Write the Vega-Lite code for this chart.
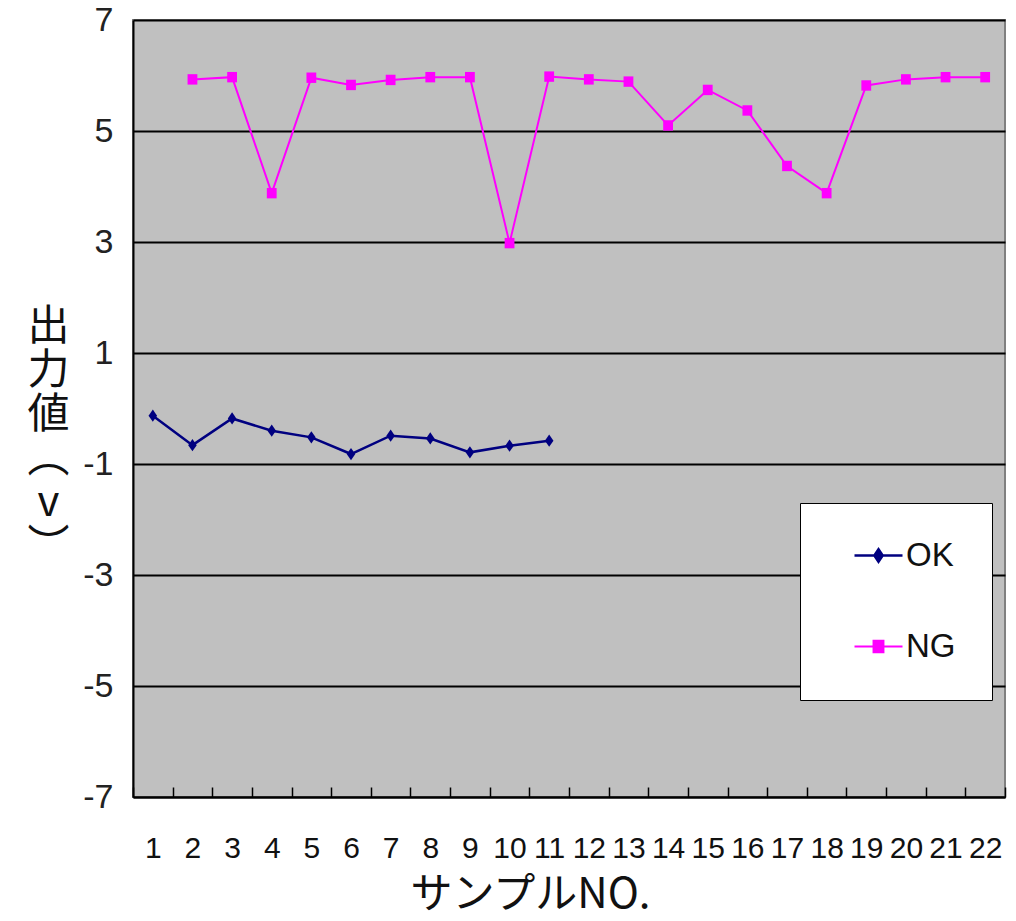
{
  "$schema": "https://vega.github.io/schema/vega-lite/v6.json",
  "width": 872,
  "height": 777,
  "autosize": "none",
  "padding": {"left": 133, "top": 20, "right": 11, "bottom": 124},
  "background": "white",
  "config": {
    "view": {"fill": "#c0c0c0", "stroke": "#808080", "strokeWidth": 2},
    "font": "Liberation Sans"
  },
  "data": {
    "values": [
      {"no": 1, "series": "OK", "v": -0.13},
      {"no": 2, "series": "OK", "v": -0.66},
      {"no": 3, "series": "OK", "v": -0.18},
      {"no": 4, "series": "OK", "v": -0.4},
      {"no": 5, "series": "OK", "v": -0.52},
      {"no": 6, "series": "OK", "v": -0.82},
      {"no": 7, "series": "OK", "v": -0.49},
      {"no": 8, "series": "OK", "v": -0.54},
      {"no": 9, "series": "OK", "v": -0.79},
      {"no": 10, "series": "OK", "v": -0.67},
      {"no": 11, "series": "OK", "v": -0.58},
      {"no": 2, "series": "NG", "v": 5.93},
      {"no": 3, "series": "NG", "v": 5.97},
      {"no": 4, "series": "NG", "v": 3.88},
      {"no": 5, "series": "NG", "v": 5.96},
      {"no": 6, "series": "NG", "v": 5.83},
      {"no": 7, "series": "NG", "v": 5.92},
      {"no": 8, "series": "NG", "v": 5.97},
      {"no": 9, "series": "NG", "v": 5.97},
      {"no": 10, "series": "NG", "v": 2.98},
      {"no": 11, "series": "NG", "v": 5.98},
      {"no": 12, "series": "NG", "v": 5.93},
      {"no": 13, "series": "NG", "v": 5.89},
      {"no": 14, "series": "NG", "v": 5.1},
      {"no": 15, "series": "NG", "v": 5.74},
      {"no": 16, "series": "NG", "v": 5.37},
      {"no": 17, "series": "NG", "v": 4.37},
      {"no": 18, "series": "NG", "v": 3.88},
      {"no": 19, "series": "NG", "v": 5.82},
      {"no": 20, "series": "NG", "v": 5.93},
      {"no": 21, "series": "NG", "v": 5.97},
      {"no": 22, "series": "NG", "v": 5.97}
    ]
  },
  "encoding": {
    "x": {
      "field": "no",
      "type": "ordinal",
      "scale": {"type": "band", "paddingInner": 0, "paddingOuter": 0},
      "axis": {
        "title": "サンプルNO.",
        "titleFont": "Noto Sans CJK JP",
        "titleFontSize": 42,
        "titleFontWeight": "normal",
        "titleColor": "#111",
        "titleX": 397,
        "titleY": 110,
        "titleBaseline": "alphabetic",
        "titleAnchor": "middle",
        "labelAngle": 0,
        "labelFont": "Liberation Sans",
        "labelFontSize": 30,
        "labelColor": "#111",
        "labelPadding": 46,
        "labelOverlap": false,
        "tickBand": "extent",
        "ticks": true,
        "tickSize": -10,
        "tickColor": "black",
        "tickWidth": 1.5,
        "domainColor": "black",
        "domainWidth": 2,
        "grid": false
      }
    },
    "y": {
      "field": "v",
      "type": "quantitative",
      "scale": {"domain": [-7, 7], "nice": false, "zero": false},
      "axis": {
        "values": [-7, -5, -3, -1, 1, 3, 5, 7],
        "labelExpr": "replace(datum.label, '−', '-')",
        "labelFont": "Liberation Sans",
        "labelFontSize": 34,
        "labelColor": "#222",
        "labelPadding": 20,
        "ticks": false,
        "grid": true,
        "gridColor": "black",
        "gridWidth": 2,
        "domainColor": "black",
        "domainWidth": 2,
        "title": ["出", "力", "値", "︵", "v", "︶"],
        "titleFont": "Noto Sans CJK JP",
        "titleFontSize": 42,
        "titleFontWeight": "normal",
        "titleColor": "#111",
        "titleAngle": 0,
        "titleLineHeight": 44,
        "titleAlign": "center",
        "titleBaseline": "middle",
        "titleX": -85,
        "titleY": 306
      }
    }
  },
  "layer": [
    {
      "mark": {"type": "line"},
      "encoding": {
        "color": {
          "field": "series",
          "type": "nominal",
          "scale": {"domain": ["OK", "NG"], "range": ["#000080", "#ff00ff"]},
          "legend": {
            "title": null,
            "orient": "none",
            "legendX": 667,
            "legendY": 483,
            "direction": "vertical",
            "fillColor": "white",
            "strokeColor": "black",
            "padding": 36,
            "symbolSize": 900,
            "symbolOffset": 26,
            "symbolStrokeWidth": 2,
            "symbolType": {"expr": "datum.value === 'OK' ? 'M-1.6,0H1.6M0,-0.42L0.28,0L0,0.42L-0.28,0ZM0,-0.28L0.14,0L0,0.28L-0.14,0ZM0,-0.14V0.14' : 'M-1.6,0H1.6M-0.33,-0.38H0.33V0.38H-0.33ZM-0.2,-0.25H0.2V0.25H-0.2ZM-0.07,-0.12H0.07V0.12H-0.07Z'"},
            "labelOffset": 11,
            "rowPadding": 57,
            "labelFontSize": 33,
            "labelColor": "#111",
            "labelFont": "Liberation Sans"
          }
        },
        "strokeWidth": {
          "field": "series",
          "type": "nominal",
          "scale": {"domain": ["OK", "NG"], "range": [2.5, 2]},
          "legend": null
        }
      }
    },
    {
      "transform": [{"filter": "datum.series === 'OK'"}],
      "mark": {"type": "point", "filled": true, "size": 150, "opacity": 1, "color": "#000080", "shape": "M0,-1L0.7,0L0,1L-0.7,0Z"}
    },
    {
      "transform": [{"filter": "datum.series === 'NG'"}],
      "mark": {"type": "point", "filled": true, "size": 150, "opacity": 1, "color": "#ff00ff", "shape": "M-0.8,-0.85H0.8V0.85H-0.8Z"}
    }
  ]
}
